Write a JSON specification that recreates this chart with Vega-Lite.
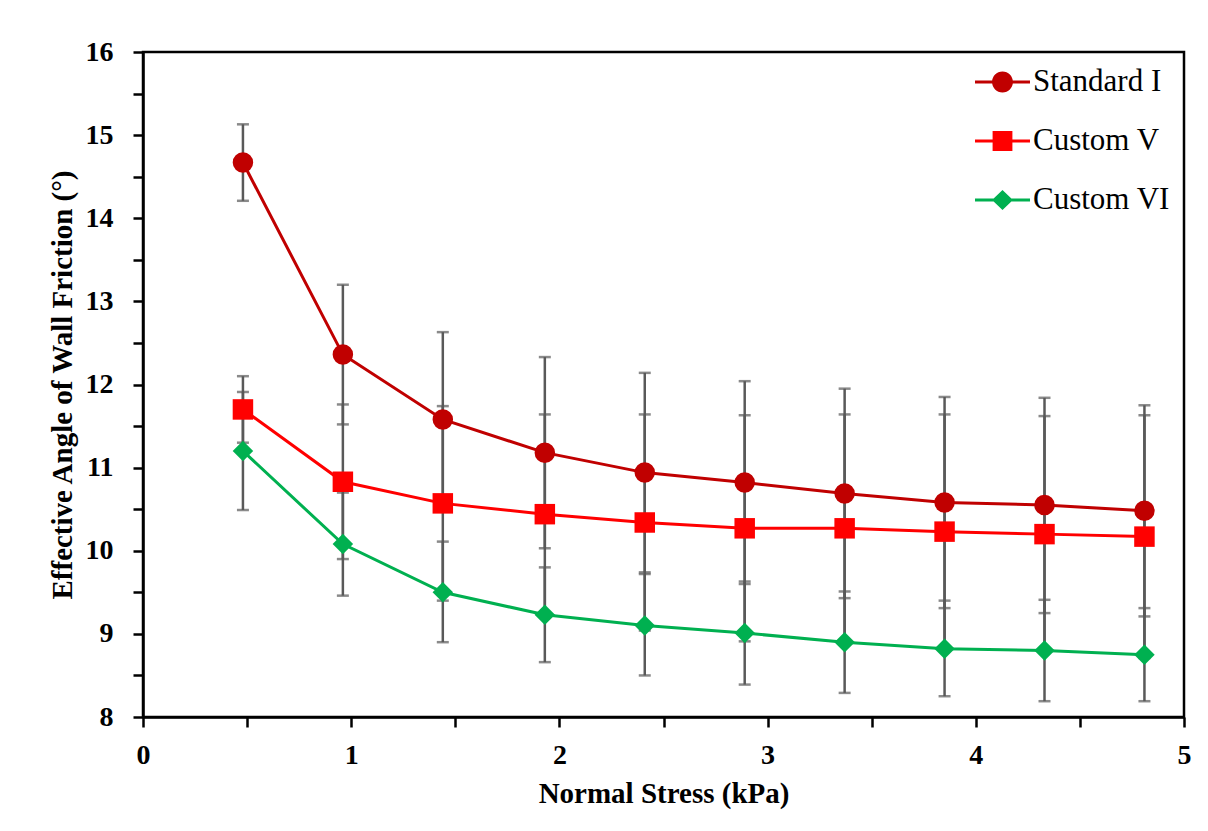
{
  "$schema": "https://vega.github.io/schema/vega-lite/v6.json",
  "width": 1041,
  "height": 665,
  "autosize": {"type": "none"},
  "padding": {"left": 143, "top": 52, "right": 24, "bottom": 114},
  "background": "white",
  "config": {
    "view": {"stroke": "black", "strokeWidth": 2.5},
    "font": "Liberation Serif",
    "axis": {
      "grid": false,
      "domainColor": "black",
      "domainWidth": 2.5,
      "tickColor": "black",
      "tickWidth": 2.5,
      "tickSize": 10,
      "labelFont": "Liberation Serif",
      "labelFontWeight": "bold",
      "labelFontSize": 28,
      "labelColor": "black",
      "labelOverlap": false,
      "labelBound": false,
      "labelFlush": false,
      "titleFont": "Liberation Serif",
      "titleFontWeight": "bold",
      "titleFontSize": 29,
      "titleColor": "black"
    }
  },
  "data": {
    "values": [
      {"series": "Standard I", "x": 0.48, "y": 14.67, "lo": 14.21, "hi": 15.13},
      {"series": "Standard I", "x": 0.96, "y": 12.36, "lo": 11.52, "hi": 13.20},
      {"series": "Standard I", "x": 1.44, "y": 11.58, "lo": 10.53, "hi": 12.63},
      {"series": "Standard I", "x": 1.93, "y": 11.18, "lo": 10.03, "hi": 12.33},
      {"series": "Standard I", "x": 2.41, "y": 10.94, "lo": 9.74, "hi": 12.14},
      {"series": "Standard I", "x": 2.89, "y": 10.82, "lo": 9.60, "hi": 12.04},
      {"series": "Standard I", "x": 3.37, "y": 10.69, "lo": 9.43, "hi": 11.95},
      {"series": "Standard I", "x": 3.85, "y": 10.58, "lo": 9.31, "hi": 11.85},
      {"series": "Standard I", "x": 4.33, "y": 10.55, "lo": 9.25, "hi": 11.84},
      {"series": "Standard I", "x": 4.81, "y": 10.48, "lo": 9.21, "hi": 11.75},
      {"series": "Custom V", "x": 0.48, "y": 11.70, "lo": 11.30, "hi": 12.10},
      {"series": "Custom V", "x": 0.96, "y": 10.83, "lo": 9.90, "hi": 11.76},
      {"series": "Custom V", "x": 1.44, "y": 10.57, "lo": 9.40, "hi": 11.74},
      {"series": "Custom V", "x": 1.93, "y": 10.44, "lo": 9.24, "hi": 11.64},
      {"series": "Custom V", "x": 2.41, "y": 10.34, "lo": 9.04, "hi": 11.64},
      {"series": "Custom V", "x": 2.89, "y": 10.27, "lo": 8.91, "hi": 11.63},
      {"series": "Custom V", "x": 3.37, "y": 10.27, "lo": 8.90, "hi": 11.64},
      {"series": "Custom V", "x": 3.85, "y": 10.23, "lo": 8.82, "hi": 11.64},
      {"series": "Custom V", "x": 4.33, "y": 10.20, "lo": 8.78, "hi": 11.62},
      {"series": "Custom V", "x": 4.81, "y": 10.17, "lo": 8.71, "hi": 11.63},
      {"series": "Custom VI", "x": 0.48, "y": 11.20, "lo": 10.49, "hi": 11.91},
      {"series": "Custom VI", "x": 0.96, "y": 10.08, "lo": 9.46, "hi": 10.70},
      {"series": "Custom VI", "x": 1.44, "y": 9.50, "lo": 8.90, "hi": 10.11},
      {"series": "Custom VI", "x": 1.93, "y": 9.23, "lo": 8.66, "hi": 9.80},
      {"series": "Custom VI", "x": 2.41, "y": 9.10, "lo": 8.50, "hi": 9.72},
      {"series": "Custom VI", "x": 2.89, "y": 9.01, "lo": 8.39, "hi": 9.63},
      {"series": "Custom VI", "x": 3.37, "y": 8.90, "lo": 8.29, "hi": 9.51},
      {"series": "Custom VI", "x": 3.85, "y": 8.82, "lo": 8.25, "hi": 9.40},
      {"series": "Custom VI", "x": 4.33, "y": 8.80, "lo": 8.19, "hi": 9.41},
      {"series": "Custom VI", "x": 4.81, "y": 8.75, "lo": 8.19, "hi": 9.31}
    ]
  },
  "encoding": {
    "x": {
      "field": "x",
      "type": "quantitative",
      "scale": {"domain": [0, 5], "nice": false, "zero": false},
      "axis": {
        "title": "Normal Stress (kPa)",
        "values": [0, 0.5, 1, 1.5, 2, 2.5, 3, 3.5, 4, 4.5, 5],
        "labelExpr": "datum.value % 1 === 0 ? format(datum.value, 'd') : ''",
        "labelPadding": 14,
        "titlePadding": 10
      }
    }
  },
  "layer": [
    {
      "mark": {"type": "rule", "color": "#595959", "strokeWidth": 2.5},
      "encoding": {
        "y": {
          "field": "lo",
          "type": "quantitative",
          "scale": {"domain": [8, 16], "nice": false, "zero": false},
          "axis": {
            "title": "Effective Angle of Wall Friction (°)",
            "values": [8, 8.5, 9, 9.5, 10, 10.5, 11, 11.5, 12, 12.5, 13, 13.5, 14, 14.5, 15, 15.5, 16],
            "labelExpr": "datum.value % 1 === 0 ? format(datum.value, 'd') : ''",
            "labelPadding": 20,
            "titlePadding": 8
          }
        },
        "y2": {"field": "hi"}
      }
    },
    {
      "mark": {"type": "tick", "orient": "horizontal", "color": "#595959", "size": 12, "thickness": 2.5},
      "encoding": {"y": {"field": "lo", "type": "quantitative"}}
    },
    {
      "mark": {"type": "tick", "orient": "horizontal", "color": "#595959", "size": 12, "thickness": 2.5},
      "encoding": {"y": {"field": "hi", "type": "quantitative"}}
    },
    {
      "mark": {"type": "line", "strokeWidth": 3},
      "encoding": {
        "y": {"field": "y", "type": "quantitative"},
        "color": {
          "field": "series",
          "type": "nominal",
          "sort": ["Standard I", "Custom V", "Custom VI"],
          "scale": {"domain": ["Standard I", "Custom V", "Custom VI"], "range": ["#C00000", "#FF0000", "#00B050"]},
          "legend": {
            "title": null,
            "orient": "none",
            "legendX": 832,
            "legendY": 2.5,
            "padding": 0,
            "symbolSize": 3025,
            "labelOffset": 3,
            "rowPadding": 16,
            "labelFont": "Liberation Serif",
            "labelFontSize": 31,
            "labelColor": "black",
            "labelLimit": 400,
            "encode": {
              "symbols": {
                "update": {
                  "shape": {"signal": "datum.value === 'Standard I' ? 'M-1,-0.055H1V0.055H-1Z M0.38,0A0.38,0.38 0 1,1 -0.38,0A0.38,0.38 0 1,1 0.38,0Z' : datum.value === 'Custom V' ? 'M-1,-0.055H1V0.055H-1Z M-0.36,-0.36H0.36V0.36H-0.36Z' : 'M-1,-0.055H1V0.055H-1Z M0,-0.36L0.38,0L0,0.36L-0.38,0Z'"},
                  "fill": {"signal": "scale('color', datum.value)"},
                  "stroke": {"value": "transparent"},
                  "strokeWidth": {"value": 0},
                  "size": {"value": 3025},
                  "opacity": {"value": 1}
                }
              }
            }
          }
        }
      }
    },
    {
      "transform": [{"filter": "datum.series === 'Standard I'"}],
      "mark": {"type": "point", "shape": "circle", "filled": true, "size": 420, "opacity": 1, "strokeWidth": 0},
      "encoding": {
        "y": {"field": "y", "type": "quantitative"},
        "color": {"field": "series", "type": "nominal"}
      }
    },
    {
      "transform": [{"filter": "datum.series === 'Custom V'"}],
      "mark": {"type": "point", "shape": "square", "filled": true, "size": 420, "opacity": 1, "strokeWidth": 0},
      "encoding": {
        "y": {"field": "y", "type": "quantitative"},
        "color": {"field": "series", "type": "nominal"}
      }
    },
    {
      "transform": [{"filter": "datum.series === 'Custom VI'"}],
      "mark": {"type": "point", "shape": "diamond", "filled": true, "size": 420, "opacity": 1, "strokeWidth": 0},
      "encoding": {
        "y": {"field": "y", "type": "quantitative"},
        "color": {"field": "series", "type": "nominal"}
      }
    }
  ]
}
